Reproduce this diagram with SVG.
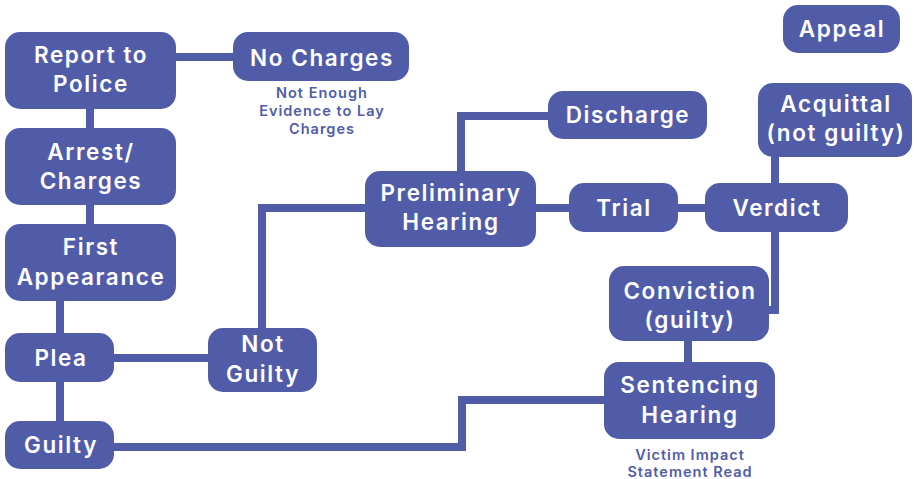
<svg xmlns="http://www.w3.org/2000/svg" width="917" height="479" viewBox="0 0 917 479">
<style>
.n{fill:#515CA9}
.t{fill:#fff;font-family:Inter,"Noto Sans",sans-serif;font-weight:600;font-size:22.5px;letter-spacing:1.6px;text-anchor:middle}
.s{fill:#515CA9;font-family:Inter,"Noto Sans",sans-serif;font-weight:600;font-size:14.5px;letter-spacing:1px;text-anchor:middle}
.c{fill:none;stroke:#515CA9;stroke-width:8}
</style>
<rect width="917" height="479" fill="#fff"/>
<g id="connectors">
<path class="c" d="M170,57 H240"/>
<path class="c" d="M90,105 V132"/>
<path class="c" d="M90,200 V228"/>
<path class="c" d="M60,296 V337"/>
<path class="c" d="M60,378 V425"/>
<path class="c" d="M110,358 H212"/>
<path class="c" d="M262,332 V208 H369"/>
<path class="c" d="M110,447 H462 V400 H608"/>
<path class="c" d="M461,175 V116 H552"/>
<path class="c" d="M532,208 H573"/>
<path class="c" d="M674,208 H709"/>
<path class="c" d="M775,153 V187"/>
<path class="c" d="M775,228 V310 H765"/>
<path class="c" d="M688,337 V366"/>
</g>
<g id="report"><rect class="n" x="5" y="32" width="171" height="77" rx="15"/><text class="t" x="91" y="63">Report to</text><text class="t" x="91" y="92">Police</text></g>
<g id="nocharges"><rect class="n" x="233" y="32" width="176" height="49" rx="15"/><text class="t" x="322" y="66">No Charges</text>
<text class="s" x="322" y="98">Not Enough</text><text class="s" x="322" y="116">Evidence to Lay</text><text class="s" x="322" y="134">Charges</text></g>
<g id="arrest"><rect class="n" x="5" y="128" width="171" height="77" rx="15"/><text class="t" x="91" y="160">Arrest/</text><text class="t" x="91" y="189">Charges</text></g>
<g id="first"><rect class="n" x="5" y="224" width="171" height="77" rx="15"/><text class="t" x="91" y="255">First</text><text class="t" x="91" y="285">Appearance</text></g>
<g id="plea"><rect class="n" x="5" y="333" width="109" height="49" rx="15"/><text class="t" x="61" y="366">Plea</text></g>
<g id="guilty"><rect class="n" x="5" y="421" width="109" height="48" rx="15"/><text class="t" x="61" y="453">Guilty</text></g>
<g id="notguilty"><rect class="n" x="208" y="328" width="109" height="64" rx="15"/><text class="t" x="263" y="352">Not</text><text class="t" x="263" y="382">Guilty</text></g>
<g id="prelim"><rect class="n" x="365" y="171" width="171" height="76" rx="15"/><text class="t" x="451" y="201">Preliminary</text><text class="t" x="451" y="230">Hearing</text></g>
<g id="discharge"><rect class="n" x="548" y="91" width="159" height="48" rx="15"/><text class="t" x="628" y="123">Discharge</text></g>
<g id="trial"><rect class="n" x="569" y="183" width="109" height="49" rx="15"/><text class="t" x="624" y="216">Trial</text></g>
<g id="verdict"><rect class="n" x="705" y="183" width="143" height="49" rx="15"/><text class="t" x="777" y="216">Verdict</text></g>
<g id="acquittal"><rect class="n" x="758" y="83" width="154" height="74" rx="15"/><text class="t" x="836" y="112">Acquittal</text><text class="t" x="836" y="141">(not guilty)</text></g>
<g id="appeal"><rect class="n" x="783" y="5" width="117" height="48" rx="15"/><text class="t" x="842" y="37">Appeal</text></g>
<g id="conviction"><rect class="n" x="609" y="266" width="160" height="75" rx="15"/><text class="t" x="690" y="299">Conviction</text><text class="t" x="690" y="328">(guilty)</text></g>
<g id="sentencing"><rect class="n" x="604" y="362" width="171" height="77" rx="15"/><text class="t" x="690" y="393">Sentencing</text><text class="t" x="690" y="423">Hearing</text>
<text class="s" x="690" y="460">Victim Impact</text><text class="s" x="690" y="477">Statement Read</text></g>
</svg>
